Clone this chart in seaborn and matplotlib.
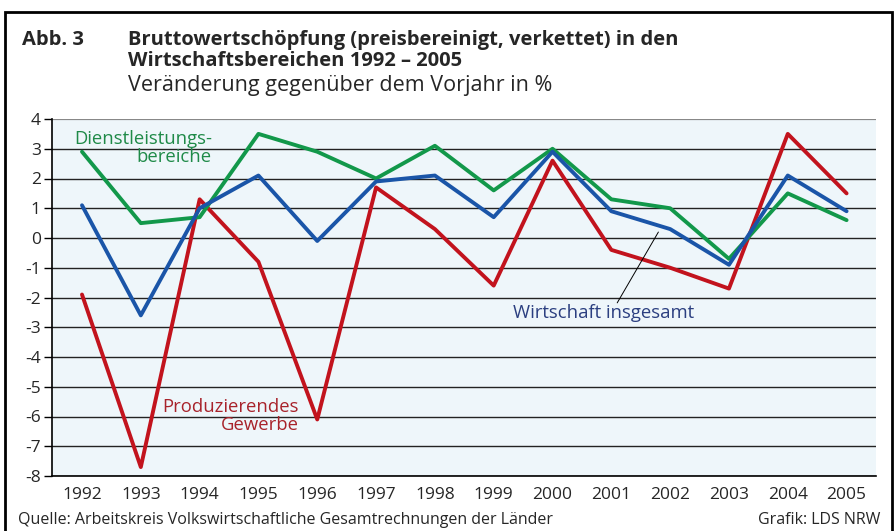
import pandas as pd
import seaborn as sns
import matplotlib.pyplot as plt
from matplotlib.patches import Rectangle

# Data (Veränderung gegenüber dem Vorjahr in %)
years = list(range(1992, 2006))
gesamt = [1.1, -2.6, 1.0, 2.1, -0.1, 1.9, 2.1, 0.7, 2.9, 0.9, 0.3, -0.9, 2.1, 0.9]
dienst = [2.9, 0.5, 0.7, 3.5, 2.9, 2.0, 3.1, 1.6, 3.0, 1.3, 1.0, -0.7, 1.5, 0.6]
produz = [-1.9, -7.7, 1.3, -0.8, -6.1, 1.7, 0.3, -1.6, 2.6, -0.4, -1.0, -1.7, 3.5, 1.5]
yticks = list(range(-8, 5))

df = pd.DataFrame({"Jahr": years, "Wirtschaft insgesamt": gesamt,
                   "Dienstleistungsbereiche": dienst,
                   "Produzierendes Gewerbe": produz})
long = df.melt(id_vars="Jahr", var_name="Bereich", value_name="Wert")

sns.set_theme(style="white")
plt.rcParams["font.family"] = ["Open Sans", "DejaVu Sans"]

palette = {"Dienstleistungsbereiche": "#12984a",
           "Wirtschaft insgesamt": "#1a55a8",
           "Produzierendes Gewerbe": "#c2131d"}

fig = plt.figure(figsize=(8.96, 5.31), dpi=100)
ax = fig.add_axes([52 / 896, 1 - 476 / 531, (876 - 52) / 896, (476 - 119) / 531])
ax.set_facecolor("#eef6fa")

for y in yticks:
    ax.axhline(y, color="#222222" if y < 4 else "#888888", lw=1.0 if y < 4 else 1.6, zorder=1)

sns.lineplot(data=long, x="Jahr", y="Wert", hue="Bereich", palette=palette,
             hue_order=["Produzierendes Gewerbe", "Dienstleistungsbereiche", "Wirtschaft insgesamt"],
             lw=2.8, ax=ax, legend=False, zorder=3)

ax.set_xlim(1991.49, 2005.5)
ax.set_ylim(-8, 4)
ax.set_xticks(years)
ax.set_xticklabels([str(y) for y in years], fontsize=12.5)
ax.set_yticks(yticks)
ax.set_yticklabels([str(y) for y in yticks], fontsize=12.5)
ax.tick_params(axis="y", length=6, width=1, color="black", pad=2, left=True)
ax.tick_params(axis="x", length=0, pad=8)
ax.set_xlabel("")
ax.set_ylabel("")
for s in ["top", "right"]:
    ax.spines[s].set_visible(False)
for s in ["left", "bottom"]:
    ax.spines[s].set_color("black")
    ax.spines[s].set_linewidth(1.2)

# Series labels
ax.text(1994.21, 3.03, "Dienstleistungs-\nbereiche", color="#1f8a48", fontsize=13.3,
        ha="right", va="center", linespacing=1.05, zorder=4)
ax.text(1995.69, -5.98, "Produzierendes\nGewerbe", color="#a8232b", fontsize=13.3,
        ha="right", va="center", linespacing=1.05, zorder=4)
ax.text(2000.86, -2.52, "Wirtschaft insgesamt", color="#2b3f80", fontsize=13.3,
        ha="center", va="center", zorder=4)
ax.plot([2001.8, 2001.1], [0.2, -2.18], color="black", lw=0.7, zorder=4)

# Frame and titles
fig.patches.append(Rectangle((5 / 896, -0.05), 887 / 896, 1 - 12 / 531 + 0.05,
                             transform=fig.transFigure, fill=False,
                             edgecolor="black", lw=2, zorder=0))
fig.text(22 / 896, 1 - 40 / 531, "Abb. 3", fontsize=14.5, fontweight="bold", va="center")
fig.text(128 / 896, 1 - 40 / 531, "Bruttowertschöpfung (preisbereinigt, verkettet) in den",
         fontsize=14.5, fontweight="bold", va="center")
fig.text(128 / 896, 1 - 61 / 531, "Wirtschaftsbereichen 1992 – 2005",
         fontsize=14.5, fontweight="bold", va="center")
fig.text(128 / 896, 1 - 85 / 531, "Veränderung gegenüber dem Vorjahr in %",
         fontsize=15.5, va="center")

fig.text(18 / 896, 1 - 520 / 531, "Quelle: Arbeitskreis Volkswirtschaftliche Gesamtrechnungen der Länder",
         fontsize=11.5, va="center")
fig.text(880 / 896, 1 - 520 / 531, "Grafik: LDS NRW", fontsize=11.5, va="center", ha="right")

fig.savefig("out.png", dpi=100)
